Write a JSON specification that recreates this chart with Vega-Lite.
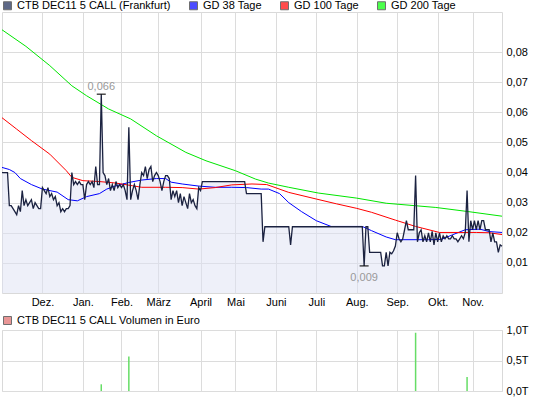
{
  "$schema": "https://vega.github.io/schema/vega-lite/v6.json",
  "padding": {"left": -2, "top": -1, "right": 0, "bottom": 0},
  "background": "white",
  "config": {
    "font": "Liberation Sans",
    "view": {"stroke": "#d9d9d9"},
    "axis": {"gridColor": "#dcdcdc", "gridWidth": 1, "labelFontSize": 11, "labelColor": "#000", "labelFont": "Liberation Sans", "domain": false, "ticks": false},
    "legend": {"labelFontSize": 11, "labelFont": "Liberation Sans", "labelColor": "#000", "labelLimit": 400, "padding": 0, "symbolType": "square", "symbolSize": 64, "symbolStrokeColor": "#333", "symbolStrokeWidth": 1, "labelOffset": 4, "columnPadding": 16, "direction": "horizontal", "orient": "none"}
  },
  "datasets": {
    "price": [
      {"t":0,"p":0.04},{"t":3,"p":0.04},{"t":4,"p":0.029},{"t":5,"p":0.029},{"t":6,"p":0.028},{"t":7,"p":0.027},{"t":8,"p":0.026},{"t":9,"p":0.029},{"t":10,"p":0.027},{"t":11,"p":0.034},{"t":12,"p":0.029},{"t":13,"p":0.031},{"t":14,"p":0.029},{"t":15,"p":0.03},{"t":16,"p":0.031},{"t":17,"p":0.028},{"t":18,"p":0.03},{"t":19,"p":0.029},{"t":20,"p":0.028},{"t":21,"p":0.028},
      {"t":22,"p":0.035},{"t":23,"p":0.034},{"t":24,"p":0.033},{"t":25,"p":0.035},{"t":26,"p":0.032},{"t":27,"p":0.033},{"t":28,"p":0.031},{"t":29,"p":0.032},{"t":30,"p":0.029},{"t":31,"p":0.03},{"t":32,"p":0.027},{"t":33,"p":0.028},{"t":34,"p":0.027},{"t":35,"p":0.028},{"t":36,"p":0.028},{"t":37,"p":0.029},{"t":38,"p":0.04},{"t":39,"p":0.036},{"t":40,"p":0.037},{"t":41,"p":0.036},{"t":42,"p":0.037},{"t":43,"p":0.036},{"t":44,"p":0.036},{"t":45,"p":0.031},{"t":46,"p":0.036},{"t":47,"p":0.037},{"t":48,"p":0.036},{"t":49,"p":0.037},{"t":50,"p":0.035},{"t":51,"p":0.042},{"t":52,"p":0.036},{"t":53,"p":0.036},{"t":54,"p":0.066},{"t":55,"p":0.04},{"t":56,"p":0.039},{"t":57,"p":0.036},{"t":58,"p":0.038},{"t":59,"p":0.034},{"t":60,"p":0.036},{"t":61,"p":0.034},{"t":62,"p":0.037},{"t":63,"p":0.035},{"t":64,"p":0.036},{"t":65,"p":0.035},{"t":66,"p":0.036},{"t":67,"p":0.034},{"t":68,"p":0.031},{"t":69,"p":0.055},{"t":70,"p":0.031},
      {"t":71,"p":0.034},{"t":72,"p":0.036},{"t":73,"p":0.034},{"t":74,"p":0.031},{"t":75,"p":0.036},{"t":76,"p":0.04},{"t":77,"p":0.039},{"t":78,"p":0.042},{"t":79,"p":0.038},{"t":80,"p":0.041},{"t":81,"p":0.042},{"t":82,"p":0.037},{"t":83,"p":0.039},{"t":84,"p":0.04},{"t":85,"p":0.039},{"t":86,"p":0.037},{"t":87,"p":0.034},{"t":88,"p":0.037},{"t":89,"p":0.039},{"t":90,"p":0.039},{"t":91,"p":0.038},{"t":92,"p":0.031},{"t":93,"p":0.034},{"t":94,"p":0.032},{"t":95,"p":0.034},{"t":96,"p":0.03},{"t":97,"p":0.033},{"t":98,"p":0.029},{"t":99,"p":0.032},{"t":100,"p":0.03},{"t":101,"p":0.028},{"t":102,"p":0.033},{"t":103,"p":0.03},{"t":104,"p":0.031},{"t":105,"p":0.029},{"t":106,"p":0.028},{"t":107,"p":0.035},{"t":108,"p":0.034},
      {"t":109,"p":0.037},{"t":132,"p":0.037},{"t":133,"p":0.033},{"t":141,"p":0.033},{"t":142,"p":0.017},{"t":143,"p":0.022},{"t":156,"p":0.022},{"t":157,"p":0.016},{"t":158,"p":0.022},{"t":196,"p":0.022},{"t":197,"p":0.009},{"t":198,"p":0.022},{"t":199,"p":0.022},{"t":200,"p":0.0135},{"t":206,"p":0.0135},{"t":207,"p":0.009},{"t":208,"p":0.009},{"t":209,"p":0.0135},{"t":210,"p":0.009},{"t":211,"p":0.0135},{"t":212,"p":0.013},{"t":213,"p":0.014},{"t":214,"p":0.0156},
      {"t":215,"p":0.02},{"t":216,"p":0.018},{"t":217,"p":0.017},{"t":218,"p":0.018},{"t":219,"p":0.021},{"t":220,"p":0.024},{"t":221,"p":0.021},{"t":222,"p":0.021},{"t":223,"p":0.021},{"t":224,"p":0.021},{"t":225,"p":0.039},{"t":226,"p":0.017},{"t":227,"p":0.02},{"t":228,"p":0.021},{"t":229,"p":0.017},{"t":230,"p":0.019},{"t":231,"p":0.017},{"t":232,"p":0.02},{"t":233,"p":0.017},{"t":234,"p":0.0205},{"t":235,"p":0.016},{"t":236,"p":0.02},{"t":237,"p":0.017},{"t":238,"p":0.02},{"t":239,"p":0.017},{"t":240,"p":0.019},{"t":241,"p":0.018},{"t":242,"p":0.019},{"t":243,"p":0.018},{"t":244,"p":0.018},{"t":245,"p":0.019},{"t":246,"p":0.018},{"t":247,"p":0.018},{"t":248,"p":0.017},{"t":249,"p":0.018},{"t":250,"p":0.019},{"t":251,"p":0.018},{"t":252,"p":0.02},{"t":253,"p":0.034},{"t":254,"p":0.017},{"t":255,"p":0.024},{"t":256,"p":0.021},{"t":257,"p":0.024},{"t":258,"p":0.021},{"t":259,"p":0.024},{"t":260,"p":0.021},{"t":261,"p":0.024},{"t":262,"p":0.024},{"t":263,"p":0.021},{"t":264,"p":0.021},{"t":265,"p":0.021},{"t":266,"p":0.017},{"t":267,"p":0.02},{"t":268,"p":0.017},{"t":269,"p":0.017},{"t":270,"p":0.0135},{"t":271,"p":0.016},{"t":272,"p":0.0155}
    ],
    "ma": [
      {"s":"GD 38 Tage","t":0,"v":0.0417},{"s":"GD 38 Tage","t":4,"v":0.041},{"s":"GD 38 Tage","t":7,"v":0.04},{"s":"GD 38 Tage","t":10,"v":0.038},{"s":"GD 38 Tage","t":16,"v":0.036},{"s":"GD 38 Tage","t":22,"v":0.0345},{"s":"GD 38 Tage","t":30,"v":0.0335},{"s":"GD 38 Tage","t":36,"v":0.031},{"s":"GD 38 Tage","t":41,"v":0.0306},{"s":"GD 38 Tage","t":46,"v":0.032},{"s":"GD 38 Tage","t":53,"v":0.033},{"s":"GD 38 Tage","t":57,"v":0.0345},{"s":"GD 38 Tage","t":62,"v":0.0356},{"s":"GD 38 Tage","t":69,"v":0.0367},{"s":"GD 38 Tage","t":76,"v":0.0375},{"s":"GD 38 Tage","t":84,"v":0.038},{"s":"GD 38 Tage","t":89,"v":0.038},{"s":"GD 38 Tage","t":92,"v":0.0368},{"s":"GD 38 Tage","t":98,"v":0.0362},{"s":"GD 38 Tage","t":107,"v":0.0355},{"s":"GD 38 Tage","t":116,"v":0.0351},{"s":"GD 38 Tage","t":125,"v":0.0351},{"s":"GD 38 Tage","t":133,"v":0.035},{"s":"GD 38 Tage","t":141,"v":0.0345},{"s":"GD 38 Tage","t":145,"v":0.0345},{"s":"GD 38 Tage","t":151,"v":0.033},{"s":"GD 38 Tage","t":156,"v":0.03},{"s":"GD 38 Tage","t":163,"v":0.027},{"s":"GD 38 Tage","t":171,"v":0.024},{"s":"GD 38 Tage","t":179,"v":0.0221},{"s":"GD 38 Tage","t":196,"v":0.0221},{"s":"GD 38 Tage","t":201,"v":0.0207},{"s":"GD 38 Tage","t":209,"v":0.0186},{"s":"GD 38 Tage","t":214,"v":0.0177},{"s":"GD 38 Tage","t":232,"v":0.0177},{"s":"GD 38 Tage","t":239,"v":0.0178},{"s":"GD 38 Tage","t":245,"v":0.0193},{"s":"GD 38 Tage","t":252,"v":0.021},{"s":"GD 38 Tage","t":260,"v":0.0212},{"s":"GD 38 Tage","t":265,"v":0.0204},{"s":"GD 38 Tage","t":272,"v":0.0201},
      {"s":"GD 100 Tage","t":0,"v":0.0582},{"s":"GD 100 Tage","t":8,"v":0.0544},{"s":"GD 100 Tage","t":16,"v":0.0506},{"s":"GD 100 Tage","t":26,"v":0.0461},{"s":"GD 100 Tage","t":35,"v":0.0406},{"s":"GD 100 Tage","t":38,"v":0.0384},{"s":"GD 100 Tage","t":44,"v":0.0373},{"s":"GD 100 Tage","t":53,"v":0.037},{"s":"GD 100 Tage","t":62,"v":0.0365},{"s":"GD 100 Tage","t":71,"v":0.0356},{"s":"GD 100 Tage","t":76,"v":0.0351},{"s":"GD 100 Tage","t":89,"v":0.0351},{"s":"GD 100 Tage","t":98,"v":0.035},{"s":"GD 100 Tage","t":107,"v":0.0345},{"s":"GD 100 Tage","t":116,"v":0.035},{"s":"GD 100 Tage","t":125,"v":0.0359},{"s":"GD 100 Tage","t":136,"v":0.0362},{"s":"GD 100 Tage","t":144,"v":0.036},{"s":"GD 100 Tage","t":156,"v":0.0334},{"s":"GD 100 Tage","t":171,"v":0.0312},{"s":"GD 100 Tage","t":182,"v":0.0296},{"s":"GD 100 Tage","t":193,"v":0.0281},{"s":"GD 100 Tage","t":201,"v":0.0268},{"s":"GD 100 Tage","t":214,"v":0.0242},{"s":"GD 100 Tage","t":225,"v":0.0221},{"s":"GD 100 Tage","t":238,"v":0.0201},{"s":"GD 100 Tage","t":258,"v":0.0201},{"s":"GD 100 Tage","t":265,"v":0.02},{"s":"GD 100 Tage","t":272,"v":0.0194},
      {"s":"GD 200 Tage","t":0,"v":0.0874},{"s":"GD 200 Tage","t":13,"v":0.0819},{"s":"GD 200 Tage","t":26,"v":0.0755},{"s":"GD 200 Tage","t":38,"v":0.0688},{"s":"GD 200 Tage","t":46,"v":0.0655},{"s":"GD 200 Tage","t":58,"v":0.0611},{"s":"GD 200 Tage","t":70,"v":0.0578},{"s":"GD 200 Tage","t":84,"v":0.0522},{"s":"GD 200 Tage","t":100,"v":0.0467},{"s":"GD 200 Tage","t":111,"v":0.0439},{"s":"GD 200 Tage","t":127,"v":0.0406},{"s":"GD 200 Tage","t":138,"v":0.0378},{"s":"GD 200 Tage","t":145,"v":0.0365},{"s":"GD 200 Tage","t":156,"v":0.0351},{"s":"GD 200 Tage","t":172,"v":0.0332},{"s":"GD 200 Tage","t":193,"v":0.0315},{"s":"GD 200 Tage","t":209,"v":0.0298},{"s":"GD 200 Tage","t":236,"v":0.0284},{"s":"GD 200 Tage","t":254,"v":0.027},{"s":"GD 200 Tage","t":272,"v":0.0255}
    ],
    "ext": [
      {"t":54,"p":0.066,"kind":"max","lab":"0,066"},
      {"t":197,"p":0.009,"kind":"min","lab":"0,009"}
    ],
    "vol": [
      {"t":54,"v":110},{"t":69,"v":565},{"t":225,"v":955},{"t":253,"v":230}
    ]
  },
  "spacing": 37,
  "bounds": "flush",
  "resolve": {"scale": {"x": "independent", "fill": "independent"}, "legend": {"fill": "independent"}},
  "vconcat": [
    {
      "width": 500,
      "height": 281,
      "layer": [
        {
          "data": {"name": "price"},
          "mark": {"type": "area", "fill": "#dde1f3", "opacity": 0.5},
          "encoding": {
            "x": {"field": "t", "type": "quantitative", "title": null, "scale": {"domain": [0, 272], "nice": false, "zero": false},
              "axis": {"values": [22,44,65,85,108,127,149,171,193,215,237,256], "grid": true, "labelPadding": 3,
                "labelExpr": "['Dez.','Jan.','Feb.','März','April','Mai','Juni','Juli','Aug.','Sep.','Okt.','Nov.'][indexof([22,44,65,85,108,127,149,171,193,215,237,256], datum.value)]"}},
            "y": {"field": "p", "type": "quantitative", "title": null, "scale": {"domain": [0, 0.0933], "nice": false, "zero": true},
              "axis": {"orient": "right", "values": [0.01,0.02,0.03,0.04,0.05,0.06,0.07,0.08], "grid": true, "labelPadding": 4,
                "labelExpr": "replace(format(datum.value, '.2f'), '.', ',')"}}
          }
        },
        {
          "data": {"name": "ma"},
          "mark": {"type": "line", "strokeWidth": 1},
          "encoding": {
            "x": {"field": "t", "type": "quantitative", "title": null},
            "y": {"field": "v", "type": "quantitative", "title": null},
            "color": {"field": "s", "type": "nominal", "legend": null,
              "scale": {"domain": ["GD 38 Tage", "GD 100 Tage", "GD 200 Tage"], "range": ["#0000ff", "#ff0000", "#00e600"]}}
          }
        },
        {
          "data": {"name": "price"},
          "mark": {"type": "line", "color": "#1b2240", "strokeWidth": 1.3},
          "encoding": {
            "x": {"field": "t", "type": "quantitative", "title": null},
            "y": {"field": "p", "type": "quantitative", "title": null}
          }
        },
        {
          "data": {"name": "ext"},
          "mark": {"type": "tick", "orient": "horizontal", "size": 9, "thickness": 1.5, "color": "#000"},
          "encoding": {
            "x": {"field": "t", "type": "quantitative", "title": null},
            "y": {"field": "p", "type": "quantitative", "title": null}
          }
        },
        {
          "data": {"name": "ext"},
          "transform": [{"filter": "datum.kind == 'max'"}],
          "mark": {"type": "text", "color": "#999", "fontSize": 11, "baseline": "alphabetic", "dy": -4},
          "encoding": {
            "x": {"field": "t", "type": "quantitative", "title": null},
            "y": {"field": "p", "type": "quantitative", "title": null},
            "text": {"field": "lab"}
          }
        },
        {
          "data": {"name": "ext"},
          "transform": [{"filter": "datum.kind == 'min'"}],
          "mark": {"type": "text", "color": "#999", "fontSize": 11, "baseline": "alphabetic", "dy": 15},
          "encoding": {
            "x": {"field": "t", "type": "quantitative", "title": null},
            "y": {"field": "p", "type": "quantitative", "title": null},
            "text": {"field": "lab"}
          }
        },
        {
          "data": {"values": []},
          "mark": {"type": "square", "filled": true},
          "encoding": {
            "fill": {"field": "n", "type": "nominal",
              "scale": {"domain": ["CTB DEC11 5 CALL (Frankfurt)", "GD 38 Tage", "GD 100 Tage", "GD 200 Tage"], "range": ["#1b2a55", "#0000ff", "#ff0000", "#00ff00"]},
              "legend": {"title": null, "orient": "none", "legendX": 0, "legendY": -12, "direction": "horizontal"}}
          }
        }
      ]
    },
    {
      "width": 500,
      "height": 61,
      "layer": [
        {
          "data": {"name": "vol"},
          "mark": {"type": "rule", "color": "#66dd66", "strokeWidth": 1.5},
          "encoding": {
            "x": {"field": "t", "type": "quantitative", "title": null, "scale": {"domain": [0, 272], "nice": false, "zero": false},
              "axis": {"values": [22,44,65,85,108,127,149,171,193,215,237,256], "grid": true, "labels": false}},
            "y": {"field": "v", "type": "quantitative", "title": null, "scale": {"domain": [0, 1000], "nice": false},
              "axis": {"orient": "right", "values": [0, 500, 1000], "grid": true, "labelPadding": 4,
                "labelExpr": "replace(format(datum.value / 1000, '.1f'), '.', ',') + 'T'"}},
            "y2": {"datum": 0}
          }
        },
        {
          "data": {"values": []},
          "mark": {"type": "square", "filled": true},
          "encoding": {
            "fill": {"field": "n", "type": "nominal",
              "scale": {"domain": ["CTB DEC11 5 CALL Volumen in Euro"], "range": ["#e06a6a"]},
              "legend": {"title": null, "orient": "none", "legendX": 0, "legendY": -15, "direction": "horizontal"}}
          }
        }
      ]
    }
  ]
}
